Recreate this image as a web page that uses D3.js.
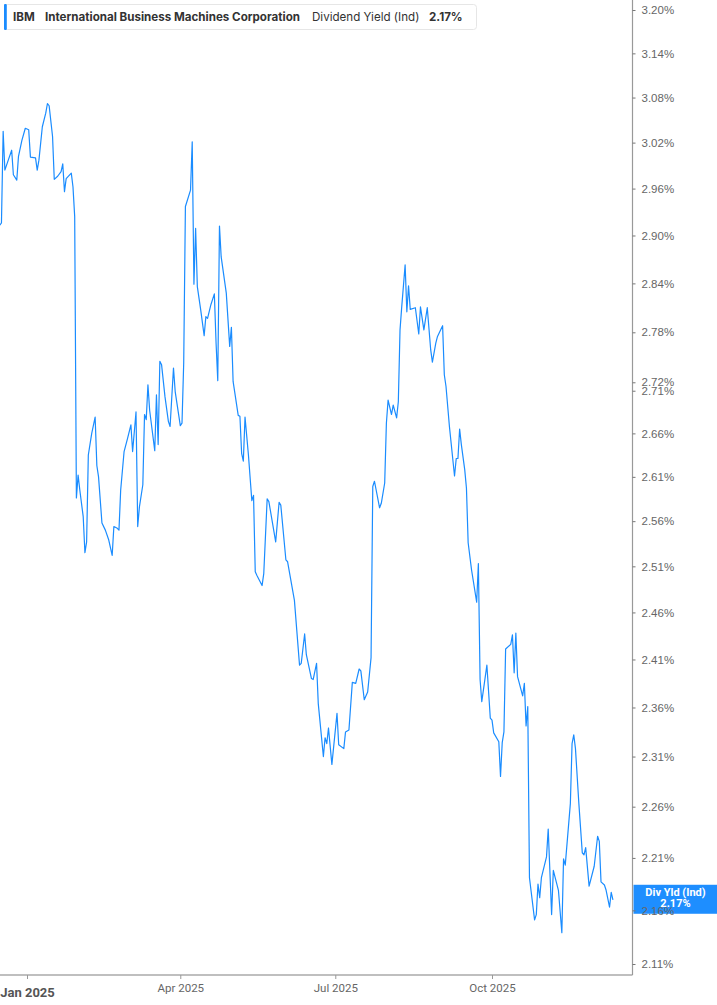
<!DOCTYPE html>
<html>
<head>
<meta charset="utf-8">
<script src="https://cdn.jsdelivr.net/npm/d3@7/dist/d3.min.js"></script>
<style>
    html, body { margin: 0; padding: 0; background: #fff; }
    svg { display: block; }
</style>
</head>
<body>
<svg id="chart" width="717" height="1005"></svg>
<script>
// Data: IBM dividend yield (indicated), daily
const dates = [
    '2024-12-16', '2024-12-17', '2024-12-18', '2024-12-19', '2024-12-21', '2024-12-23', '2024-12-24', '2024-12-26',
    '2024-12-27', '2024-12-29', '2024-12-31', '2025-01-02', '2025-01-03', '2025-01-06', '2025-01-07', '2025-01-08',
    '2025-01-10', '2025-01-12', '2025-01-13', '2025-01-14', '2025-01-16', '2025-01-17', '2025-01-19', '2025-01-21',
    '2025-01-22', '2025-01-23', '2025-01-24', '2025-01-27', '2025-01-28', '2025-01-29', '2025-01-30', '2025-01-31',
    '2025-02-01', '2025-02-03', '2025-02-04', '2025-02-05', '2025-02-06', '2025-02-08', '2025-02-10', '2025-02-11',
    '2025-02-12', '2025-02-14', '2025-02-16', '2025-02-18', '2025-02-20', '2025-02-21', '2025-02-23', '2025-02-24',
    '2025-02-25', '2025-02-27', '2025-03-01', '2025-03-03', '2025-03-04', '2025-03-06', '2025-03-07', '2025-03-08',
    '2025-03-10', '2025-03-11', '2025-03-12', '2025-03-13', '2025-03-14', '2025-03-17', '2025-03-18', '2025-03-19',
    '2025-03-20', '2025-03-21', '2025-03-23', '2025-03-25', '2025-03-26', '2025-03-28', '2025-03-29', '2025-04-01',
    '2025-04-02', '2025-04-03', '2025-04-04', '2025-04-07', '2025-04-08', '2025-04-09', '2025-04-10', '2025-04-11',
    '2025-04-13', '2025-04-15', '2025-04-16', '2025-04-17', '2025-04-19', '2025-04-21', '2025-04-22', '2025-04-23',
    '2025-04-24', '2025-04-25', '2025-04-28', '2025-04-30', '2025-05-01', '2025-05-02', '2025-05-05', '2025-05-06',
    '2025-05-07', '2025-05-08', '2025-05-09', '2025-05-11', '2025-05-13', '2025-05-14', '2025-05-15', '2025-05-16',
    '2025-05-19', '2025-05-20', '2025-05-22', '2025-05-23', '2025-05-27', '2025-05-29', '2025-05-30', '2025-06-02',
    '2025-06-03', '2025-06-07', '2025-06-10', '2025-06-11', '2025-06-13', '2025-06-14', '2025-06-17', '2025-06-18',
    '2025-06-20', '2025-06-21', '2025-06-24', '2025-06-25', '2025-06-26', '2025-06-27', '2025-06-29', '2025-07-02',
    '2025-07-03', '2025-07-06', '2025-07-07', '2025-07-09', '2025-07-11', '2025-07-13', '2025-07-15', '2025-07-16',
    '2025-07-18', '2025-07-20', '2025-07-22', '2025-07-23', '2025-07-24', '2025-07-27', '2025-07-28', '2025-07-30',
    '2025-07-31', '2025-08-01', '2025-08-03', '2025-08-04', '2025-08-06', '2025-08-07', '2025-08-08', '2025-08-09',
    '2025-08-11', '2025-08-12', '2025-08-13', '2025-08-14', '2025-08-17', '2025-08-19', '2025-08-20', '2025-08-22',
    '2025-08-24', '2025-08-26', '2025-08-27', '2025-08-29', '2025-08-30', '2025-09-02', '2025-09-03', '2025-09-04',
    '2025-09-06', '2025-09-09', '2025-09-10', '2025-09-11', '2025-09-12', '2025-09-13', '2025-09-15', '2025-09-16',
    '2025-09-17', '2025-09-19', '2025-09-22', '2025-09-23', '2025-09-24', '2025-09-25', '2025-09-28', '2025-09-30',
    '2025-10-01', '2025-10-02', '2025-10-05', '2025-10-06', '2025-10-07', '2025-10-08', '2025-10-09', '2025-10-12',
    '2025-10-13', '2025-10-14', '2025-10-15', '2025-10-16', '2025-10-19', '2025-10-20', '2025-10-21', '2025-10-22',
    '2025-10-23', '2025-10-26', '2025-10-27', '2025-10-28', '2025-10-29', '2025-10-30', '2025-11-02', '2025-11-03',
    '2025-11-05', '2025-11-06', '2025-11-09', '2025-11-11', '2025-11-12', '2025-11-13', '2025-11-16', '2025-11-17',
    '2025-11-18', '2025-11-19', '2025-11-21', '2025-11-23', '2025-11-24', '2025-11-25', '2025-11-27', '2025-11-30',
    '2025-12-02', '2025-12-03', '2025-12-04', '2025-12-06', '2025-12-07', '2025-12-09', '2025-12-10', '2025-12-11'
];

const yields = [
    2.913, 2.916, 3.035, 2.984, 2.997, 3.010, 2.978, 2.971,
    3.002, 3.023, 3.039, 3.037, 3.001, 3.000, 2.984, 2.997,
    3.041, 3.059, 3.072, 3.069, 3.028, 2.972, 2.976, 2.982,
    2.992, 2.956, 2.973, 2.980, 2.962, 2.924, 2.586, 2.612,
    2.595, 2.565, 2.525, 2.537, 2.635, 2.660, 2.679, 2.623,
    2.610, 2.558, 2.550, 2.539, 2.522, 2.554, 2.552, 2.550,
    2.595, 2.639, 2.654, 2.670, 2.639, 2.685, 2.554, 2.576,
    2.601, 2.682, 2.676, 2.717, 2.687, 2.640, 2.705, 2.647,
    2.745, 2.741, 2.703, 2.674, 2.668, 2.737, 2.709, 2.669,
    2.672, 2.743, 2.937, 2.958, 3.021, 2.839, 2.909, 2.836,
    2.807, 2.776, 2.799, 2.797, 2.814, 2.827, 2.767, 2.722,
    2.912, 2.873, 2.828, 2.763, 2.786, 2.721, 2.681, 2.680,
    2.637, 2.628, 2.679, 2.635, 2.583, 2.589, 2.504, 2.500,
    2.489, 2.502, 2.585, 2.582, 2.537, 2.581, 2.578, 2.517,
    2.515, 2.473, 2.404, 2.406, 2.437, 2.415, 2.390, 2.389,
    2.406, 2.364, 2.310, 2.329, 2.323, 2.339, 2.302, 2.354,
    2.322, 2.318, 2.335, 2.337, 2.386, 2.385, 2.400, 2.398,
    2.368, 2.376, 2.412, 2.599, 2.605, 2.575, 2.580, 2.603,
    2.672, 2.699, 2.682, 2.693, 2.678, 2.697, 2.783, 2.811,
    2.863, 2.805, 2.837, 2.808, 2.810, 2.778, 2.811, 2.783,
    2.810, 2.759, 2.744, 2.767, 2.775, 2.788, 2.729, 2.715,
    2.668, 2.611, 2.631, 2.631, 2.665, 2.647, 2.618, 2.597,
    2.536, 2.506, 2.471, 2.513, 2.389, 2.366, 2.404, 2.349,
    2.347, 2.334, 2.325, 2.290, 2.324, 2.335, 2.421, 2.426,
    2.436, 2.396, 2.438, 2.392, 2.372, 2.385, 2.341, 2.361,
    2.191, 2.151, 2.156, 2.185, 2.172, 2.191, 2.211, 2.238,
    2.156, 2.198, 2.179, 2.139, 2.209, 2.203, 2.263, 2.323,
    2.332, 2.318, 2.263, 2.215, 2.213, 2.220, 2.183, 2.202,
    2.231, 2.226, 2.187, 2.184, 2.179, 2.163, 2.177, 2.170
];

// Tick values
const yTicks = [3.20, 3.14, 3.08, 3.02, 2.96, 2.90, 2.84, 2.78, 2.72, 2.71, 2.66,
    2.61, 2.56, 2.51, 2.46, 2.41, 2.36, 2.31, 2.26, 2.21, 2.16, 2.11];
const xTicks = ['2025-01-01', '2025-04-01', '2025-07-01', '2025-10-01'];

// Legend
const ticker = 'IBM';
const companyName = 'International Business Machines Corporation';
const seriesName = 'Dividend Yield (Ind)';
const shortName = 'Div Yld (Ind)';

const width = 717;
const height = 1005;
const plotRight = 632.5;
const plotBottom = 975;
const lineColor = '#1a8cff';

const parseDate = d3.timeParse('%Y-%m-%d');
const series = dates.map((d, i) => ({ date: parseDate(d), value: yields[i] }));
const lastPoint = series[series.length - 1];

const svg = d3.select('#chart');

// Scales: time on x, log on y (matches spacing of the tick labels)
const x = d3.scaleTime()
    .domain([parseDate(xTicks[0]), parseDate(xTicks[3])])
    .range([27, 492]);

const y = d3.scaleLog()
    .domain([yTicks[yTicks.length - 1], yTicks[0]])
    .range([964, 10]);

// Line
const line = d3.line()
    .x(d => x(d.date))
    .y(d => y(d.value));

svg.append('path')
    .datum(series)
    .attr('fill', 'none')
    .attr('stroke', lineColor)
    .attr('stroke-width', 1.2)
    .attr('stroke-linejoin', 'round')
    .attr('d', line);

// Axis frame lines
svg.append('line')
    .attr('x1', 0).attr('x2', plotRight)
    .attr('y1', plotBottom).attr('y2', plotBottom)
    .attr('stroke', '#aaa')
    .attr('stroke-width', 1.5);

svg.append('line')
    .attr('x1', plotRight).attr('x2', plotRight)
    .attr('y1', 0).attr('y2', plotBottom)
    .attr('stroke', '#999')
    .attr('stroke-width', 1.2);

// Last value label on the right axis
const lastY = y(lastPoint.value);
svg.append('rect')
    .attr('x', plotRight + 1)
    .attr('y', lastY - 15)
    .attr('width', width - plotRight - 1)
    .attr('height', 29)
    .attr('fill', '#1e8eff');

const lastLabel = svg.append('text')
    .attr('text-anchor', 'middle')
    .attr('fill', '#fff')
    .style('font-family', 'Roboto, sans-serif')
    .style('font-size', '11px')
    .style('font-weight', 'bold');
lastLabel.append('tspan')
    .attr('x', 675.5).attr('y', lastY - 3.5)
    .text(shortName);
lastLabel.append('tspan')
    .attr('x', 675.5).attr('y', lastY + 7.5)
    .text(d3.format('.2f')(lastPoint.value) + '%');

// Right axis
const yAxis = svg.append('g')
    .attr('transform', `translate(${plotRight},0)`)
    .call(d3.axisRight(y)
        .tickValues(yTicks)
        .tickSize(3)
        .tickPadding(6)
        .tickFormat(d => d.toFixed(2) + '%'));
yAxis.select('.domain').remove();
yAxis.selectAll('.tick line').attr('stroke', '#777');
yAxis.selectAll('.tick text')
    .attr('fill', '#666')
    .style('font-family', '"Liberation Sans", Arial, sans-serif')
    .style('font-size', '11.5px');

// Bottom axis
const xAxis = svg.append('g')
    .attr('transform', `translate(0,${plotBottom})`)
    .call(d3.axisBottom(x)
        .tickValues(xTicks.map(parseDate))
        .tickSize(4)
        .tickPadding(5)
        .tickFormat(d3.timeFormat('%b %Y')));
xAxis.select('.domain').remove();
xAxis.selectAll('.tick line').attr('stroke', '#999');
xAxis.selectAll('.tick text')
    .attr('fill', '#666')
    .style('font-family', 'Roboto, sans-serif')
    .style('font-size', '11.5px');
// Year start is bold
xAxis.selectAll('.tick text')
    .filter(d => d.getMonth() === 0)
    .attr('fill', '#555')
    .attr('dy', '1.0em')
    .style('font-size', '13px')
    .style('font-weight', 'bold');

// Legend box at top-left
const legend = svg.append('g');
legend.append('rect')
    .attr('x', 4.5).attr('y', 4.5)
    .attr('width', 472).attr('height', 25)
    .attr('rx', 3)
    .attr('fill', '#fff')
    .attr('stroke', '#e6e6e6');
legend.append('rect')
    .attr('x', 4).attr('y', 4)
    .attr('width', 2.8).attr('height', 26)
    .attr('rx', 1)
    .attr('fill', lineColor);

const legendText = legend.append('text')
    .attr('y', 21)
    .attr('fill', '#333')
    .style('font-family', 'Inter, sans-serif')
    .style('font-size', '11.6px');
legendText.append('tspan').attr('x', 13).style('font-weight', 'bold').text(ticker);
legendText.append('tspan').attr('x', 45).style('font-weight', 'bold').text(companyName);
legendText.append('tspan').attr('x', 312).text(seriesName);
legendText.append('tspan').attr('x', 429).style('font-weight', 'bold').text(d3.format('.2f')(lastPoint.value) + '%');
</script>
</body>
</html>
